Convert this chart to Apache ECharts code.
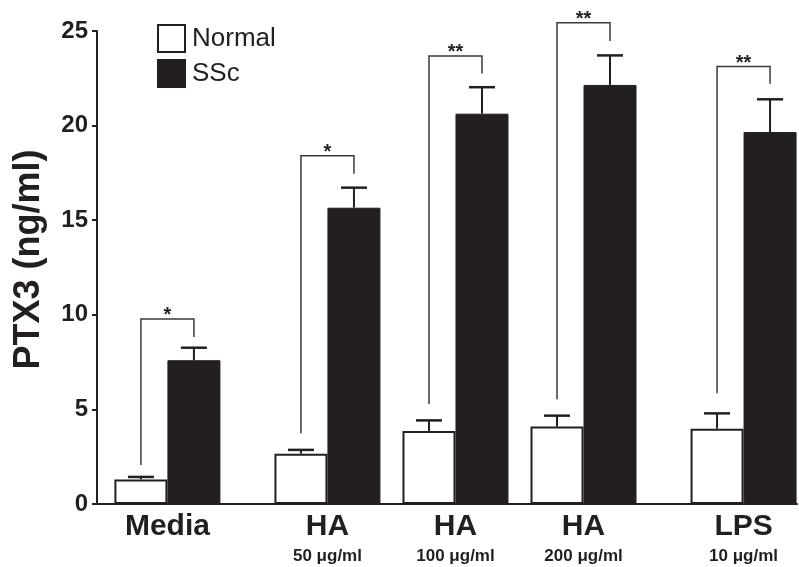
<!DOCTYPE html>
<html>
<head>
<meta charset="utf-8">
<script src="https://cdn.jsdelivr.net/npm/echarts@6/dist/echarts.min.js"></script>
<style>
  html, body { margin: 0; padding: 0; background: #fff; }
  #chart { width: 799px; height: 567px; }
</style>
</head>
<body>
<div id="chart"></div>
<script>
// ---- data ----
const categories = ['Media', 'HA', 'HA', 'HA', 'LPS'];
const doses = ['', '50 \u03bcg/ml', '100 \u03bcg/ml', '200 \u03bcg/ml', '10 \u03bcg/ml'];
const normalMean = [1.3, 2.66, 3.86, 4.09, 3.98];
const normalErr = [0.13, 0.2, 0.56, 0.58, 0.81];
const sscMean = [7.6, 15.66, 20.63, 22.15, 19.66];
const sscErr = [0.66, 1.06, 1.4, 1.56, 1.73];
const sigLabel = ['*', '*', '**', '**', '**'];
const sigTop = [9.78, 18.41, 23.68, 25.44, 23.13];
const sigLeftLow = [2.06, 3.74, 5.29, 5.53, 5.85];
const sigRightLow = [8.83, 17.46, 22.76, 24.47, 22.21];
const seriesNames = ['Normal', 'SSc'];

// ---- layout (axis units / pixels) ----
const groupPos = [0, 5, 9, 13, 18];
const BAR_W = 53;
const CAP_W = 26;
const INK = '#231f20';
const FONT = '"Liberation Sans", Arial, Helvetica, sans-serif';

const chart = echarts.init(document.getElementById('chart'), null, { renderer: 'canvas' });

function errRender(side, means, errs) {
  return function (params, api) {
    const i = params.dataIndex;
    const base = api.coord([api.value(0), means[i]]);
    const top = api.coord([api.value(0), means[i] + errs[i]]);
    const x = base[0] + side * BAR_W / 2;
    return {
      type: 'group',
      children: [
        { type: 'line', shape: { x1: x, y1: base[1], x2: x, y2: top[1] },
          style: { stroke: INK, lineWidth: 2 } },
        { type: 'line', shape: { x1: x - CAP_W / 2, y1: top[1], x2: x + CAP_W / 2, y2: top[1] },
          style: { stroke: INK, lineWidth: 2.5 } }
      ]
    };
  };
}

function sigRender(params, api) {
  const i = params.dataIndex;
  const pos = api.value(0);
  const pl = api.coord([pos, sigLeftLow[i]]);
  const pr = api.coord([pos, sigRightLow[i]]);
  const pt = api.coord([pos, sigTop[i]]);
  const xl = pl[0] - BAR_W / 2;
  const xr = pl[0] + BAR_W / 2;
  return {
    type: 'group',
    children: [
      { type: 'polyline',
        shape: { points: [[xl, pl[1]], [xl, pt[1]], [xr, pt[1]], [xr, pr[1]]] },
        style: { stroke: '#3a3a3a', lineWidth: 1.5, fill: null } },
      { type: 'text',
        style: { x: (xl + xr) / 2, y: pt[1] - 3, text: sigLabel[i], align: 'center',
                 verticalAlign: 'middle', font: 'bold 20px ' + FONT, fill: INK } }
    ]
  };
}

const option = {
  animation: false,
  backgroundColor: '#fff',
  grid: { left: 97, right: 2, top: 31, bottom: 63, containLabel: false },
  legend: {
    orient: 'vertical',
    left: 152,
    top: 19,
    itemWidth: 27,
    itemHeight: 27,
    itemGap: 6,
    icon: 'rect',
    data: seriesNames,
    textStyle: { fontFamily: FONT, fontSize: 26, color: INK, padding: [0, 0, 0, 2] }
  },
  xAxis: {
    type: 'value',
    min: -2.2,
    max: 19.67,
    splitLine: { show: false },
    axisTick: { show: false },
    axisLine: { show: true, onZero: false, lineStyle: { color: INK, width: 2 } },
    axisLabel: {
      customValues: groupPos,
      margin: 4,
      formatter: function (v) {
        const i = groupPos.indexOf(v);
        if (i < 0) return '';
        return doses[i] ? '{a|' + categories[i] + '}\n{b|' + doses[i] + '}' : '{a|' + categories[i] + '}';
      },
      rich: {
        a: { fontFamily: FONT, fontWeight: 'bold', fontSize: 30, lineHeight: 37, color: INK },
        b: { fontFamily: FONT, fontWeight: 'bold', fontSize: 17, lineHeight: 22, color: INK }
      }
    }
  },
  yAxis: {
    type: 'value',
    min: 0,
    max: 25,
    interval: 5,
    name: 'PTX3 (ng/ml)',
    nameLocation: 'middle',
    nameGap: 50,
    nameTextStyle: { fontFamily: FONT, fontWeight: 'bold', fontSize: 36, color: INK, padding: [0, 0, 0, 16] },
    splitLine: { show: false },
    axisLine: { show: true, onZero: false, lineStyle: { color: INK, width: 2 } },
    axisTick: { show: true, length: 5, lineStyle: { color: INK, width: 2 } },
    axisLabel: { fontFamily: FONT, fontWeight: 'bold', fontSize: 24, color: INK, margin: 9 }
  },
  series: [
    {
      name: 'Normal',
      type: 'bar',
      barWidth: BAR_W,
      barGap: '0%',
      data: groupPos.map((p, i) => [p, normalMean[i]]),
      itemStyle: { color: '#ffffff', borderColor: INK, borderWidth: 2 }
    },
    {
      name: 'SSc',
      type: 'bar',
      barWidth: BAR_W,
      barGap: '0%',
      data: groupPos.map((p, i) => [p, sscMean[i]]),
      itemStyle: { color: INK, borderColor: INK, borderWidth: 1 }
    },
    {
      type: 'custom',
      renderItem: errRender(-1, normalMean, normalErr),
      data: groupPos.map((p, i) => [p, normalMean[i] + normalErr[i]]),
      z: 5
    },
    {
      type: 'custom',
      renderItem: errRender(1, sscMean, sscErr),
      data: groupPos.map((p, i) => [p, sscMean[i] + sscErr[i]]),
      z: 5
    },
    {
      type: 'custom',
      renderItem: sigRender,
      clip: false,
      data: groupPos.map((p, i) => [p, sigTop[i]]),
      z: 6
    }
  ]
};
chart.setOption(option);
</script>
</body>
</html>
